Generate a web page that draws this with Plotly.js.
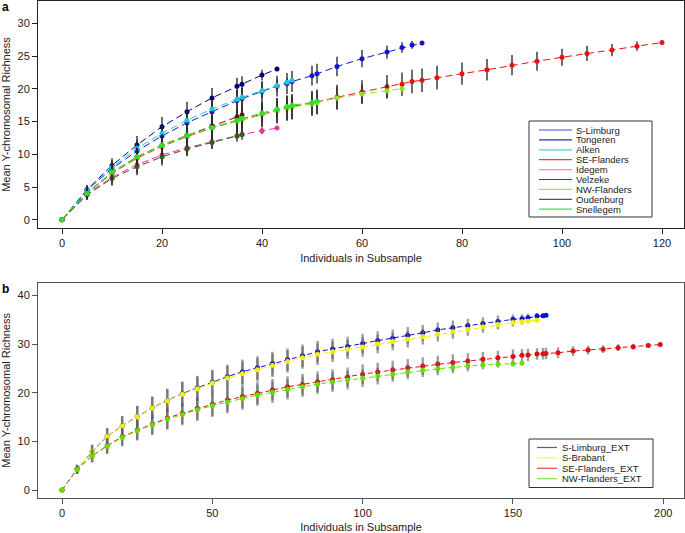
<!DOCTYPE html>
<html>
<head>
<meta charset="utf-8">
<script src="https://cdn.plot.ly/plotly-3.0.1.min.js"></script>
<style>html,body{margin:0;padding:0;background:#fff;}#chart{width:685px;height:533px;}</style>
</head>
<body>
<div id="chart"></div>
<script>
// ---------------- Panel a data ----------------
const namesA = ["S-Limburg","Tongeren","Alken","SE-Flanders","Idegem","Velzeke","NW-Flanders","Oudenburg","Snellegem"];

const sLimburgX  = [0,5,10,15,20,25,30,35,36,40,43,45,46,50,51,55,60,65,68,70,72];
const sLimburgY  = [0,4.5,7.8,10.5,12.8,14.8,16.5,18.2,18.5,19.6,20.4,20.8,21.1,22.0,22.3,23.4,24.6,25.6,26.3,26.7,27.0];
const sLimburgSD = [0,0.7,1.1,1.3,1.5,1.6,1.6,1.6,1.6,1.6,1.6,1.6,1.6,1.5,1.5,1.5,1.3,1.0,0.8,0.6,0];

const tongerenX  = [0,5,10,15,20,25,30,35,36,40,43];
const tongerenY  = [0,4.6,8.3,11.4,14.2,16.5,18.6,20.4,20.7,22.1,23.0];
const tongerenSD = [0,0.7,1.1,1.4,1.5,1.5,1.5,1.3,1.2,0.8,0];

const alkenX  = [0,5,10,15,20,25,30,35,36,40,43,45,46];
const alkenY  = [0,4.5,8.0,10.9,13.2,15.2,16.9,18.4,18.7,19.7,20.5,21.0,21.3];
const alkenSD = [0,0.7,1.1,1.3,1.4,1.5,1.5,1.4,1.4,1.2,0.9,0.6,0];

const seFlandersX  = [0,5,10,15,20,25,30,35,36,40,43,45,46,50,51,55,60,65,68,70,72,75,80,85,90,95,100,105,110,115,120];
const seFlandersY  = [0,4.0,7.1,9.4,11.2,12.7,14.0,15.1,15.4,16.1,16.7,17.1,17.3,17.8,18.0,18.7,19.5,20.3,20.7,21.1,21.3,21.7,22.3,22.9,23.6,24.2,24.8,25.4,25.9,26.5,27.05];
const seFlandersSD = [0,0.8,1.2,1.5,1.7,1.8,1.9,1.9,1.9,1.9,1.9,1.9,1.9,1.9,1.9,1.9,1.8,1.8,1.8,1.8,1.8,1.8,1.7,1.65,1.55,1.45,1.3,1.15,0.95,0.7,0];

const idegemX  = [0,5,10,15,20,25,30,35,36,40,43];
const idegemY  = [0,3.9,6.5,8.4,9.9,11.0,11.9,12.8,13.0,13.6,14.0];
const idegemSD = [0,0.8,1.1,1.3,1.3,1.2,1.1,0.9,0.8,0.5,0];

const velzekeX  = [0,5,10,15,20,25,30,35,36];
const velzekeY  = [0,4.1,7.2,9.6,11.4,12.9,14.3,15.7,16.0];
const velzekeSD = [0,0.8,1.2,1.4,1.4,1.2,0.9,0.4,0];

const nwFlandersX  = [0,5,10,15,20,25,30,35,36,40,43,45,46,50,51,55,60,65,68];
const nwFlandersY  = [0,4.0,7.2,9.5,11.3,12.8,14.0,15.0,15.3,16.1,16.6,17.0,17.2,17.7,17.9,18.6,19.2,19.7,20.0];
const nwFlandersSD = [0,0.8,1.2,1.5,1.7,1.8,1.9,1.9,1.9,1.9,1.9,1.9,1.9,1.8,1.8,1.7,1.5,1.1,0];

const oudenburgX  = [0,5,10,15,20,25,30,35,36];
const oudenburgY  = [0,3.8,6.3,8.1,9.6,10.8,11.8,12.8,13.0];
const oudenburgSD = [0,0.8,1.1,1.3,1.3,1.1,0.9,0.4,0];

const snellegemX  = [0,5,10,15,20,25,30,35,36,40,43,45,46,50,51];
const snellegemY  = [0,4.0,7.3,9.6,11.4,12.9,14.1,15.2,15.5,16.3,16.9,17.3,17.5,17.9,18.1];
const snellegemSD = [0,0.8,1.2,1.4,1.6,1.6,1.6,1.5,1.5,1.4,1.2,1.0,0.9,0.4,0];

// ---------------- Panel b data ----------------
const namesB = ["S-Limburg_EXT","S-Brabant","SE-Flanders_EXT","NW-Flanders_EXT"];

const sLimburgExtX  = [0,5,10,15,20,25,30,35,40,45,50,55,60,65,70,75,80,85,90,95,100,105,110,115,120,125,130,135,140,145,150,153,155,158,160,161];
const sLimburgExtY  = [0,4.3,7.9,11.0,13.2,15.1,16.9,18.4,19.8,21.0,22.2,23.3,24.3,25.1,26.0,26.8,27.6,28.4,29.0,29.5,30.1,30.7,31.2,31.8,32.3,32.9,33.35,33.8,34.2,34.65,35.07,35.2,35.4,35.75,35.8,35.9];
const sLimburgExtSD = [0,0.9,1.4,1.7,2.0,2.2,2.3,2.4,2.5,2.5,2.5,2.5,2.5,2.4,2.4,2.3,2.3,2.2,2.1,2.0,2.0,1.9,1.8,1.7,1.6,1.5,1.5,1.4,1.3,1.2,1.0,0.9,0.8,0.6,0.4,0];

const sBrabantX  = [0,5,10,15,20,25,30,35,40,45,50,55,60,65,70,75,80,85,90,95,100,105,110,115,120,125,130,135,140,145,150,153,155,158];
const sBrabantY  = [0,4.3,7.9,11.0,13.15,15.05,16.85,18.35,19.7,20.8,22.0,23.0,23.9,24.7,25.6,26.4,27.2,27.9,28.4,28.9,29.4,30.0,30.5,31.0,31.5,32.0,32.5,33.0,33.5,34.0,34.4,34.6,34.7,34.9];
const sBrabantSD = [0,0.9,1.4,1.7,2.0,2.2,2.3,2.4,2.5,2.5,2.5,2.5,2.5,2.4,2.4,2.3,2.3,2.2,2.1,2.0,2.0,1.9,1.8,1.7,1.6,1.5,1.4,1.3,1.2,1.0,0.8,0.6,0.4,0];

const seFlandersExtX  = [0,5,10,15,20,25,30,35,40,45,50,55,60,65,70,75,80,85,90,95,100,105,110,115,120,125,130,135,140,145,150,153,155,158,160,161,165,170,175,180,185,190,195,199];
const seFlandersExtY  = [0,4.25,7.0,9.1,10.96,12.33,13.56,14.79,15.75,16.8,17.6,18.5,19.2,19.9,20.6,21.2,21.7,22.25,22.7,23.2,23.8,24.25,24.65,25.1,25.5,25.9,26.2,26.5,26.85,27.2,27.45,27.7,27.75,27.95,28.0,28.05,28.2,28.55,28.75,28.95,29.25,29.45,29.7,29.9];
const seFlandersExtSD = [0,0.9,1.3,1.6,1.8,2.0,2.1,2.2,2.2,2.3,2.3,2.3,2.3,2.3,2.2,2.2,2.2,2.1,2.1,2.0,2.0,1.9,1.9,1.8,1.8,1.7,1.7,1.6,1.5,1.4,1.4,1.3,1.3,1.2,1.2,1.2,1.1,1.0,0.9,0.8,0.7,0.6,0.4,0];

const nwFlandersExtX  = [0,5,10,15,20,25,30,35,40,45,50,55,60,65,70,75,80,85,90,95,100,105,110,115,120,125,130,135,140,145,150,153];
const nwFlandersExtY  = [0,4.2,6.99,9.0,10.8,12.2,13.4,14.6,15.5,16.5,17.3,18.1,18.8,19.5,20.1,20.7,21.2,21.75,22.2,22.6,22.95,23.4,23.8,24.25,24.6,24.9,25.2,25.5,25.7,25.85,25.95,26.05];
const nwFlandersExtSD = [0,0.9,1.3,1.6,1.8,2.0,2.1,2.2,2.2,2.3,2.3,2.3,2.3,2.2,2.2,2.1,2.1,2.0,2.0,1.9,1.8,1.7,1.6,1.5,1.4,1.3,1.2,1.1,0.9,0.7,0.5,0];

const xTicksA = [0,20,40,60,80,100,120];
const yTicksA = [0,5,10,15,20,25,30];
const xTicksB = [0,50,100,150,200];
const yTicksB = [0,10,20,30,40];

// ---------------- styling ----------------
const colorsA = ["#1414d2","#000078","#22c8d8","#e81010","#ee3399","#8b0000","#8ce61e","#3c5a1e","#2ee02e"];
const legendColorsA = ["#4848d8","#303090","#44d4d4","#f04040","#f090c0","#902020","#90ee40","#406030","#40e060"];
const colorsB = ["#1010c8","#f0f000","#e01010","#66dd00"];
const legendColorsB = ["#5050d0","#f4f070","#ee4040","#80e040"];
const seriesA = [
  [sLimburgX,sLimburgY,sLimburgSD],[tongerenX,tongerenY,tongerenSD],[alkenX,alkenY,alkenSD],
  [seFlandersX,seFlandersY,seFlandersSD],[idegemX,idegemY,idegemSD],[velzekeX,velzekeY,velzekeSD],
  [nwFlandersX,nwFlandersY,nwFlandersSD],[oudenburgX,oudenburgY,oudenburgSD],[snellegemX,snellegemY,snellegemSD]
];
const seriesB = [
  [sLimburgExtX,sLimburgExtY,sLimburgExtSD],[sBrabantX,sBrabantY,sBrabantSD],
  [seFlandersExtX,seFlandersExtY,seFlandersExtSD],[nwFlandersExtX,nwFlandersExtY,nwFlandersExtSD]
];

const W = 685, H = 533;
const px = v => v / W;
const py = v => 1 - v / H;

const traces = [];
seriesA.forEach((s, i) => {
  traces.push({
    type: "scatter", mode: "lines+markers", name: namesA[i], showlegend: false,
    x: s[0], y: s[1], xaxis: "x", yaxis: "y",
    line: {color: colorsA[i], width: 1, dash: "7px,4px"},
    marker: {color: colorsA[i], size: 5},
    error_y: {type: "data", array: s[2], visible: true, color: "rgba(40,40,40,0.85)", thickness: 1.6, width: 0}
  });
});
seriesB.forEach((s, i) => {
  traces.push({
    type: "scatter", mode: "lines+markers", name: namesB[i], showlegend: false,
    x: s[0], y: s[1], xaxis: "x2", yaxis: "y2",
    line: {color: colorsB[i], width: 1, dash: "5px,3px"},
    marker: {color: colorsB[i], size: 5},
    error_y: {type: "data", array: s[2], visible: true, color: "rgba(95,95,95,0.6)", thickness: 2.4, width: 0}
  });
});

const font = {family: "Liberation Sans, Arial, sans-serif", size: 11, color: "#222"};
const axisCommon = {
  showgrid: false, zeroline: false, showline: true, mirror: true,
  ticks: "outside", ticklen: 5, tickwidth: 1, automargin: false,
  tickfont: {size: 11, color: "#222"}
};

// manual legends (built from the series names and colours)
const shapes = [];
const annotations = [];
shapes.push({type: "rect", xref: "paper", yref: "paper", x0: px(529), x1: px(652), y0: py(121), y1: py(217),
  line: {color: "#333", width: 1}, fillcolor: "#fff"});
namesA.forEach((n, i) => {
  const yy = 130 + i * 9.9;
  shapes.push({type: "line", xref: "paper", yref: "paper", x0: px(539), x1: px(572), y0: py(yy), y1: py(yy),
    line: {color: legendColorsA[i], width: 1.2}});
  annotations.push({xref: "paper", yref: "paper", x: px(574), y: py(yy), text: n, showarrow: false,
    xanchor: "left", yanchor: "middle", font: {size: 9.5, color: "#222"}});
});
shapes.push({type: "rect", xref: "paper", yref: "paper", x0: px(529), x1: px(653), y0: py(439), y1: py(487.5),
  line: {color: "#333", width: 1}, fillcolor: "#fff"});
namesB.forEach((n, i) => {
  const yy = 447.5 + i * 10.4;
  shapes.push({type: "line", xref: "paper", yref: "paper", x0: px(537), x1: px(557), y0: py(yy), y1: py(yy),
    line: {color: legendColorsB[i], width: 1.2}});
  annotations.push({xref: "paper", yref: "paper", x: px(560), y: py(yy), text: n, showarrow: false,
    xanchor: "left", yanchor: "middle", font: {size: 9.5, color: "#222"}});
});
// panel letters
annotations.push({xref: "paper", yref: "paper", x: px(0), y: py(7), text: "<b>a</b>", showarrow: false,
  xanchor: "left", yanchor: "middle", font: {size: 12, color: "#000"}});
annotations.push({xref: "paper", yref: "paper", x: px(0), y: py(289), text: "<b>b</b>", showarrow: false,
  xanchor: "left", yanchor: "middle", font: {size: 12, color: "#000"}});

const layout = {
  width: W, height: H,
  margin: {l: 0, r: 0, t: 0, b: 0},
  paper_bgcolor: "#fff", plot_bgcolor: "#fff",
  font: font, showlegend: false,
  xaxis: Object.assign({}, axisCommon, {
    domain: [px(38), px(684)], range: [-4.8, 124.4], tickvals: xTicksA, anchor: "y",
    linecolor: "#222", tickcolor: "#222",
    title: {text: "Individuals in Subsample", font: {size: 11, color: "#222"}, standoff: 6}
  }),
  yaxis: Object.assign({}, axisCommon, {
    domain: [py(228), py(1)], range: [-1.26, 33.4], tickvals: yTicksA, anchor: "x",
    linecolor: "#222", tickcolor: "#222",
    title: {text: "Mean Y-chromosomal Richness", font: {size: 11, color: "#222"}, standoff: 6}
  }),
  xaxis2: Object.assign({}, axisCommon, {
    domain: [px(38), px(684)], range: [-8, 206.9], tickvals: xTicksB, anchor: "y2",
    linecolor: "#555", tickcolor: "#555",
    title: {text: "Individuals in Subsample", font: {size: 11, color: "#222"}, standoff: 6}
  }),
  yaxis2: Object.assign({}, axisCommon, {
    domain: [py(498), py(282.7)], range: [-1.64, 42.6], tickvals: yTicksB, anchor: "x2",
    linecolor: "#555", tickcolor: "#555",
    title: {text: "Mean Y-chromosomal Richness", font: {size: 11, color: "#222"}, standoff: 6}
  }),
  shapes: shapes,
  annotations: annotations
};

Plotly.newPlot("chart", traces, layout, {staticPlot: true, displayModeBar: false});
</script>
</body>
</html>
